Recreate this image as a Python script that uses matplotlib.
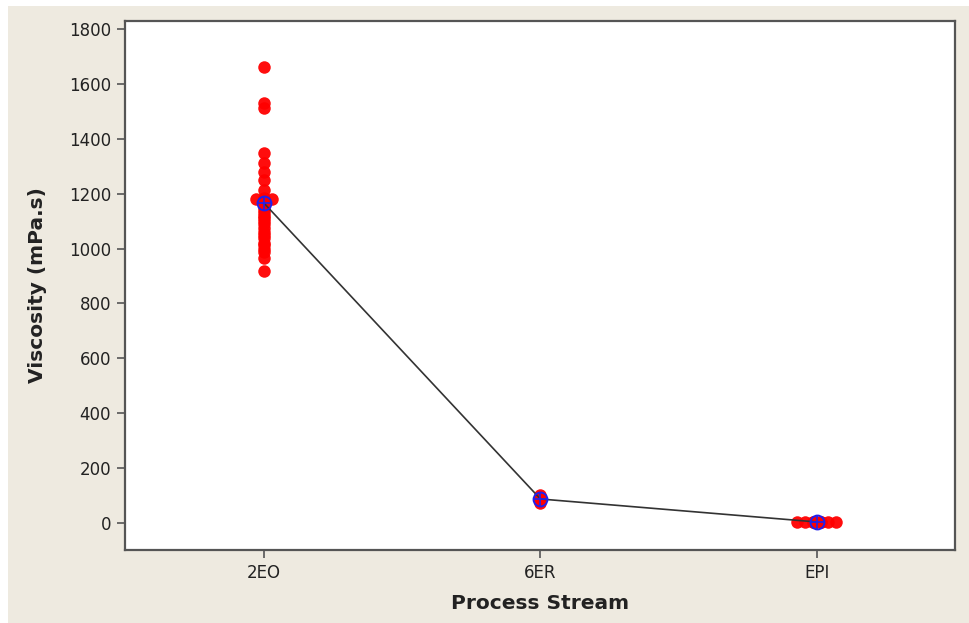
import numpy as np
import matplotlib.pyplot as plt
from matplotlib.patches import Rectangle

# viscosity readings per process stream (mPa.s)
streams = ["2EO", "6ER", "EPI"]
visc_2eo = [1662, 1530, 1512, 1348, 1312, 1279, 1250, 1214, 1184, 1180, 1180,
            1180, 1166, 1150, 1140, 1130, 1120, 1111, 1100, 1090, 1075, 1060,
            1050, 1038, 1020, 1013, 1000, 988, 966, 918]
visc_6er = [104, 96, 90, 85, 80, 72]
visc_epi = [4, 4, 4, 4, 4, 4, 5, 5, 3]
yticks = [0, 200, 400, 600, 800, 1000, 1200, 1400, 1600, 1800]

groups = [visc_2eo, visc_6er, visc_epi]
means = [np.mean(g) for g in groups]


def spread(values, step=0.028):
    """Side-by-side offsets for points sharing the same value."""
    offs = np.zeros(len(values))
    vals = np.asarray(values)
    for v in np.unique(vals):
        idx = np.where(vals == v)[0]
        n = len(idx)
        offs[idx] = (np.arange(n) - (n - 1) / 2) * step
    return offs


fig = plt.figure(figsize=(9.7, 6.23), dpi=100, facecolor="white")
fig.patches.append(Rectangle((8 / 970, 0), 1, 1 - 6 / 623, transform=fig.transFigure,
                             facecolor="#eeeae0", edgecolor="none", zorder=-10))

ax = fig.add_axes([125 / 970, 73 / 623, 830 / 970, 529 / 623])
ax.set_facecolor("white")

for i, g in enumerate(groups):
    x = i + spread(g)
    ax.plot(x, g, "o", color="red", markersize=9, markeredgewidth=0, alpha=0.95, zorder=2)

# line joining the stream means
ax.plot(range(len(streams)), means, color="#333333", lw=1.2, zorder=3)
ax.plot(range(len(streams)), means, "o", markerfacecolor="none", markeredgecolor="#2020ee",
        markersize=10, markeredgewidth=1.4, zorder=4)
ax.plot(range(len(streams)), means, "+", color="#2020ee", markersize=10,
        markeredgewidth=1.2, zorder=4)

ax.set_xlim(-0.503, 2.5)
ax.set_ylim(-98, 1829)
ax.set_xticks(range(len(streams)))
ax.set_xticklabels(streams)
ax.set_yticks(yticks)

for s in ax.spines.values():
    s.set_color("#555555")
    s.set_linewidth(1.6)
ax.tick_params(axis="both", length=6, width=1.2, color="#555555", labelsize=12,
               labelcolor="#222222", pad=4)

ax.set_xlabel("Process Stream", fontsize=14.5, fontweight="bold", color="#222222", labelpad=9)
ax.set_ylabel("Viscosity (mPa.s)", fontsize=14.5, fontweight="bold", color="#222222", labelpad=16)

fig.savefig("out.png", dpi=100, facecolor=fig.get_facecolor())
